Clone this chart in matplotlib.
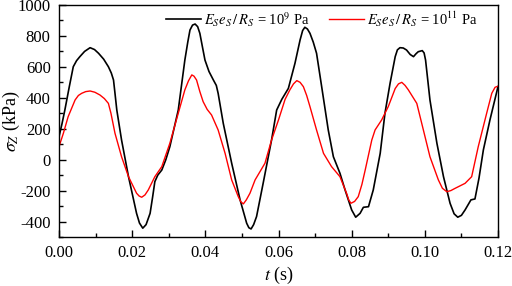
import matplotlib
matplotlib.use("Agg")
import matplotlib.pyplot as plt
from matplotlib.ticker import MultipleLocator

plt.rcParams['font.family'] = ['Liberation Serif', 'DejaVu Serif']
plt.rcParams['mathtext.fontset'] = 'stix'
plt.rcParams['axes.unicode_minus'] = False

t_black = [0.0000, 0.0008, 0.0016, 0.0028, 0.0039, 0.0048, 0.0057, 0.0070, 0.0085, 0.0097,
           0.0108, 0.0122, 0.0135, 0.0143, 0.0149, 0.0153, 0.0158, 0.0171, 0.0190, 0.0212,
           0.0220, 0.0229, 0.0238, 0.0249, 0.0256, 0.0262, 0.0270, 0.0281, 0.0292, 0.0303,
           0.0326, 0.0344, 0.0352, 0.0358, 0.0365, 0.0372, 0.0379, 0.0385, 0.0392, 0.0399,
           0.0410, 0.0422, 0.0430, 0.0435, 0.0449, 0.0472, 0.0495, 0.0513, 0.0519, 0.0525,
           0.0532, 0.0540, 0.0558, 0.0581, 0.0595, 0.0609, 0.0627, 0.0645, 0.0659, 0.0666,
           0.0672, 0.0679, 0.0686, 0.0695, 0.0704, 0.0718, 0.0736, 0.0750, 0.0768, 0.0782,
           0.0800, 0.0811, 0.0823, 0.0832, 0.0846, 0.0859, 0.0878, 0.0891, 0.0905, 0.0919,
           0.0925, 0.0932, 0.0941, 0.0950, 0.0960, 0.0969, 0.0976, 0.0982, 0.0993, 0.0998,
           0.1002, 0.1014, 0.1033, 0.1051, 0.1069, 0.1080, 0.1090, 0.1100, 0.1110, 0.1126,
           0.1137, 0.1148, 0.1160, 0.1178, 0.1200]
v_black = [149, 230, 321, 470, 601, 640, 666, 700, 724, 712,
           688, 650, 601, 560, 515, 430, 321, 127, -110, -347,
           -410, -443, -420, -347, -240, -142, -100, -67, 0, 84,
           321, 644, 760, 838, 870, 877, 860, 817, 730, 644,
           570, 515, 480, 429, 235, -23, -260, -411, -440, -448,
           -420, -368, -153, 127, 321, 390, 461, 623, 774, 835,
           856, 845, 817, 760, 688, 472, 192, 19, -88, -196,
           -325, -372, -347, -308, -304, -196, 41, 300, 494, 666,
           710, 724, 722, 709, 680, 666, 685, 698, 705, 690,
           644, 386, 106, -110, -282, -350, -372, -360, -325, -260,
           -254, -120, 63, 257, 472]

t_red = [0.0000, 0.0012, 0.0025, 0.0044, 0.0053, 0.0062, 0.0073, 0.0085, 0.0098, 0.0112,
         0.0124, 0.0135, 0.0142, 0.0153, 0.0171, 0.0190, 0.0212, 0.0219, 0.0226, 0.0235,
         0.0244, 0.0262, 0.0281, 0.0303, 0.0326, 0.0344, 0.0354, 0.0363, 0.0369, 0.0376,
         0.0385, 0.0394, 0.0405, 0.0417, 0.0435, 0.0454, 0.0472, 0.0490, 0.0497, 0.0504,
         0.0512, 0.0522, 0.0536, 0.0563, 0.0581, 0.0600, 0.0618, 0.0631, 0.0641, 0.0650,
         0.0659, 0.0668, 0.0677, 0.0686, 0.0704, 0.0723, 0.0745, 0.0768, 0.0786, 0.0792,
         0.0798, 0.0808, 0.0818, 0.0828, 0.0837, 0.0855, 0.0864, 0.0882, 0.0900, 0.0919,
         0.0928, 0.0937, 0.0946, 0.0955, 0.0978, 0.0996, 0.1014, 0.1037, 0.1048, 0.1060,
         0.1071, 0.1083, 0.1110, 0.1128, 0.1146, 0.1169, 0.1183, 0.1192, 0.1200]
v_red = [84, 171, 278, 386, 415, 429, 440, 444, 436, 418,
         395, 364, 300, 171, 19, -110, -217, -235, -243, -228,
         -196, -110, -45, 106, 300, 451, 510, 548, 540, 515,
         440, 375, 325, 289, 192, 41, -131, -239, -272, -286,
         -260, -217, -131, -23, 127, 257, 390, 451, 490, 511,
         500, 472, 415, 343, 192, 41, -45, -110, -217, -260,
         -282, -270, -239, -160, -67, 127, 192, 257, 343, 460,
         490, 500, 480, 451, 364, 192, 19, -131, -185, -207,
         -200, -185, -153, -110, 84, 300, 429, 468, 475]

x_ticks = [0.00, 0.02, 0.04, 0.06, 0.08, 0.10, 0.12]
x_ticklabels = ['0.00', '0.02', '0.04', '0.06', '0.08', '0.10', '0.12']
y_ticks = [-400, -200, 0, 200, 400, 600, 800, 1000]
y_ticklabels = ['-400', '-200', '0', '200', '400', '600', '800', '1000']
labels = [r'$E_Se_S\,/\,R_S$ = 10$^{9}$ Pa', r'$E_Se_S\,/\,R_S$ = 10$^{11}$ Pa']

fig = plt.figure(figsize=(5.12, 2.86), dpi=100)
ax = fig.add_axes([59/512, 1-237/286, (498-59)/512, (237-5)/286])

ax.plot(t_black, v_black, color='black', lw=1.2, label=labels[0], solid_joinstyle='round')
ax.plot(t_red, v_red, color='red', lw=1.0, label=labels[1], solid_joinstyle='round')

ax.set_xlim(0, 0.12)
ax.set_ylim(-500, 1000)
ax.set_xticks(x_ticks)
ax.set_xticklabels(x_ticklabels)
ax.set_yticks(y_ticks)
ax.set_yticklabels(y_ticklabels)
ax.xaxis.set_minor_locator(MultipleLocator(0.01))
ax.yaxis.set_minor_locator(MultipleLocator(100))
ax.tick_params(which='major', direction='in', length=5, width=1, labelsize=12, pad=6)
ax.tick_params(which='minor', direction='in', length=3, width=1)
ax.tick_params(top=False, right=False)
for s in ax.spines.values():
    s.set_linewidth(1.0)

ax.set_xlabel(r'$t$ (s)', fontsize=13)
ax.set_ylabel(r'$\sigma_Z$ (kPa)', fontsize=13)
ax.xaxis.set_label_coords(0.5, -0.12)
ax.yaxis.set_label_coords(-0.085, 0.5)

leg = ax.legend(loc='center left', bbox_to_anchor=(166/512, 1-19/286), bbox_transform=fig.transFigure,
                ncol=2, frameon=False, fontsize=10.5, handlelength=2.4, handletextpad=0.2,
                columnspacing=1.35, borderpad=0, borderaxespad=0)

fig.savefig('out.png', dpi=100)
